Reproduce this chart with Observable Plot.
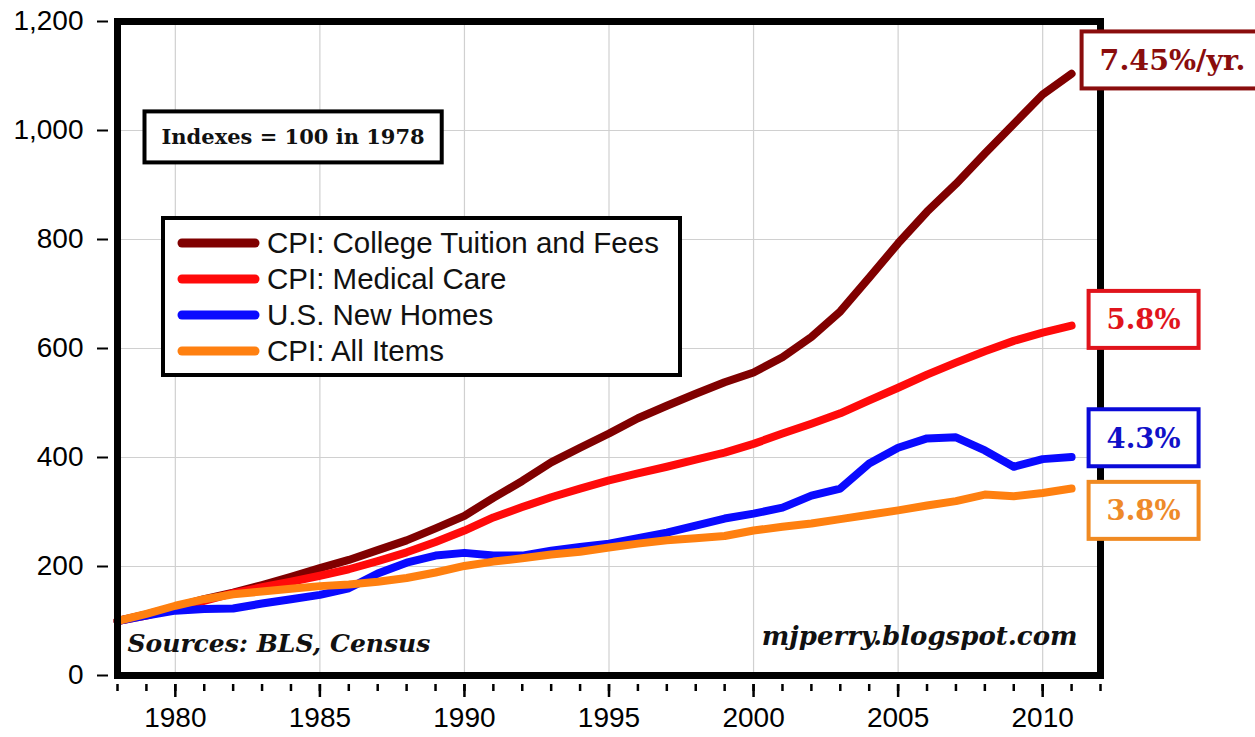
<!DOCTYPE html>
<html><head><meta charset="utf-8">
<script src="https://cdn.jsdelivr.net/npm/d3@7"></script>
<script src="https://cdn.jsdelivr.net/npm/@observablehq/plot@0.6"></script>
<style>
html,body{margin:0;padding:0;background:#fff;}
#chart{width:1255px;height:737px;overflow:hidden;position:relative;}
</style></head><body><div id="chart"></div>
<script>
// ---- data ----
const years = [1978,1979,1980,1981,1982,1983,1984,1985,1986,1987,1988,1989,1990,1991,1992,1993,1994,1995,1996,1997,1998,1999,2000,2001,2002,2003,2004,2005,2006,2007,2008,2009,2010,2011];
const tuition  = [100,112,126,140,152,166,181,197,212,230,248,270,293,326,357,391,418,444,472,495,517,538,556,584,621,668,730,793,851,902,958,1012,1066,1104];
const medical  = [100,110,124,137,151,162,172,183,195,210,226,245,266,290,309,327,343,358,371,383,396,409,425,444,462,481,505,528,552,574,595,614,629,642];
const newHomes = [100,110,119,122,123,132,140,148,160,187,207,220,225,220,220,229,236,242,252,262,275,288,297,308,330,343,389,418,435,437,413,383,397,401];
const allItems = [100,113,128,140,149,154,159,164,167,172,179,189,201,209,215,222,227,235,242,248,252,256,266,273,279,287,295,303,312,320,332,329,335,343];
const seriesNames  = ["CPI: College Tuition and Fees","CPI: Medical Care","U.S. New Homes","CPI: All Items"];
const seriesColors = ["#800000","#ff0a0a","#0a0aff","#ff8010"];
const rateLabels   = ["7.45%/yr.","5.8%","4.3%","3.8%"];
const labelColors  = ["#8a0d0d","#e0141c","#1010c8","#ee8a2a"];
const labelBorders = ["#8a0d0d","#e0141c","#0a0ad8","#f08a22"];
const yTicks   = [0,200,400,600,800,1000,1200];
const yGrid    = [200,400,600,800,1000];
const xMajor   = [1980,1985,1990,1995,2000,2005,2010];
const xMinor   = [1978,1979,1980,1981,1982,1983,1984,1985,1986,1987,1988,1989,1990,1991,1992,1993,1994,1995,1996,1997,1998,1999,2000,2001,2002,2003,2004,2005,2006,2007,2008,2009,2010,2011,2012];
const noteText   = "Indexes = 100 in 1978";
const sourceText = "Sources: BLS, Census";
const siteText   = "mjperry.blogspot.com";

// ---- build table ----
const seriesValues = [tuition, medical, newHomes, allItems];
const table = seriesNames.flatMap((name, i) => years.map((yr, j) => ({series: name, year: yr, value: seriesValues[i][j]})));
const lastPoints = seriesNames.map((name, i) => ({series: name, year: years[years.length-1], value: seriesValues[i][seriesValues[i].length-1], label: rateLabels[i]}));

// label offsets (pixels from the last point)
const labelOffsets = [
  {dx: 28, dy: -13, anchor: "start"},
  {dx: 72, dy: -5, anchor: "middle"},
  {dx: 72, dy: -18, anchor: "middle"},
  {dx: 72, dy: 23, anchor: "middle"}
];

const serif = "'DejaVu Serif', Georgia, serif";
const fmtComma = d3.format(",");

const marks = [
  Plot.ruleX(xMajor, {x: d => d, stroke: "#d0d0d0", strokeWidth: 1.2}),
  Plot.ruleY(yGrid, {y: d => d, stroke: "#d0d0d0", strokeWidth: 1.2}),
  Plot.axisY(yTicks, {tickFormat: d => fmtComma(d), tickSize: 11, dx: -9, tickPadding: 14, strokeWidth: 2, fontSize: 28, label: null}),
  Plot.axisX(xMinor, {tickSize: 7, dy: 9, tickFormat: () => "", strokeWidth: 2.5, label: null}),
  Plot.axisX(xMajor, {tickSize: 13, dy: 9, tickPadding: 10, tickFormat: d => String(d), strokeWidth: 2.5, fontSize: 28, label: null}),
  Plot.line(table, {x: "year", y: "value", z: "series", stroke: "series", strokeWidth: 8, strokeLinejoin: "round", strokeLinecap: "round"}),
  Plot.frame({stroke: "black", strokeWidth: 7}),
  Plot.text([noteText], {text: d => d, frameAnchor: "top-left", dx: 44, dy: 108, textAnchor: "start", fontFamily: serif, fontWeight: "bold", fontSize: 21, fill: "#111"}),
  Plot.text([sourceText], {text: d => d, frameAnchor: "bottom-left", dx: 10, dy: -24, textAnchor: "start", fontFamily: serif, fontWeight: "bold", fontStyle: "italic", fontSize: 25, fill: "#111"}),
  Plot.text([siteText], {text: d => d, frameAnchor: "bottom-right", dx: -23, dy: -31, textAnchor: "end", fontFamily: serif, fontWeight: "bold", fontStyle: "italic", fontSize: 26, fill: "#111"})
];
lastPoints.forEach((p, i) => {
  marks.push(Plot.text([p], {x: "year", y: "value", text: "label", dx: labelOffsets[i].dx, dy: labelOffsets[i].dy, textAnchor: labelOffsets[i].anchor, fontFamily: serif, fontWeight: "bold", fontSize: i === 0 ? 28.5 : 27.5, fill: labelColors[i]}));
});

const chart = Plot.plot({
  width: 1255,
  height: 737,
  marginLeft: 117,
  marginRight: 155,
  marginTop: 21,
  marginBottom: 62,
  style: {fontFamily: "'Liberation Sans', Arial, sans-serif", fontSize: "28px", background: "white", overflow: "visible", color: "black"},
  x: {domain: [1978, 2012], label: null},
  y: {domain: [0, 1200], label: null},
  color: {domain: seriesNames, range: seriesColors},
  marks
});
document.getElementById("chart").appendChild(chart);

// ---- boxes behind annotation texts ----
const svg = d3.select(chart);
const svgRect = chart.getBoundingClientRect();
function findText(str) {
  return svg.selectAll("text").filter(function() { return this.textContent === str; });
}
function boxAround(sel, padX, h, stroke, sw) {
  sel.each(function() {
    const r = this.getBoundingClientRect();
    const x0 = r.left - svgRect.left, y0 = r.top - svgRect.top;
    const cy = y0 + r.height / 2;
    const grp = this.closest("g") || this;
    const rect = document.createElementNS("http://www.w3.org/2000/svg", "rect");
    rect.setAttribute("x", x0 - padX); rect.setAttribute("y", cy - h / 2);
    rect.setAttribute("width", r.width + 2 * padX); rect.setAttribute("height", h);
    rect.setAttribute("fill", "white"); rect.setAttribute("stroke", stroke); rect.setAttribute("stroke-width", sw);
    chart.appendChild(rect);
    chart.appendChild(grp);
  });
}
boxAround(findText(noteText), 17, 51, "black", 4);
rateLabels.forEach((lab, i) => boxAround(findText(lab), 18, 57, labelBorders[i], 4));

// ---- legend (inside plot area) ----
const legend = svg.append("g").attr("aria-label", "legend");
legend.append("rect").attr("x", 163).attr("y", 218).attr("width", 517).attr("height", 157)
  .attr("fill", "white").attr("stroke", "black").attr("stroke-width", 4);
seriesNames.forEach((name, i) => {
  const cy = 243 + i * 36;
  legend.append("line").attr("x1", 182).attr("x2", 255).attr("y1", cy).attr("y2", cy)
    .attr("stroke", seriesColors[i]).attr("stroke-width", 9).attr("stroke-linecap", "round");
  legend.append("text").attr("x", 267).attr("y", cy).attr("dy", "0.35em")
    .attr("text-anchor", "start")
    .attr("font-family", "'Liberation Sans', Arial, sans-serif").attr("font-size", 29.5).attr("fill", "#111").text(name);
});
</script>
</body></html>
